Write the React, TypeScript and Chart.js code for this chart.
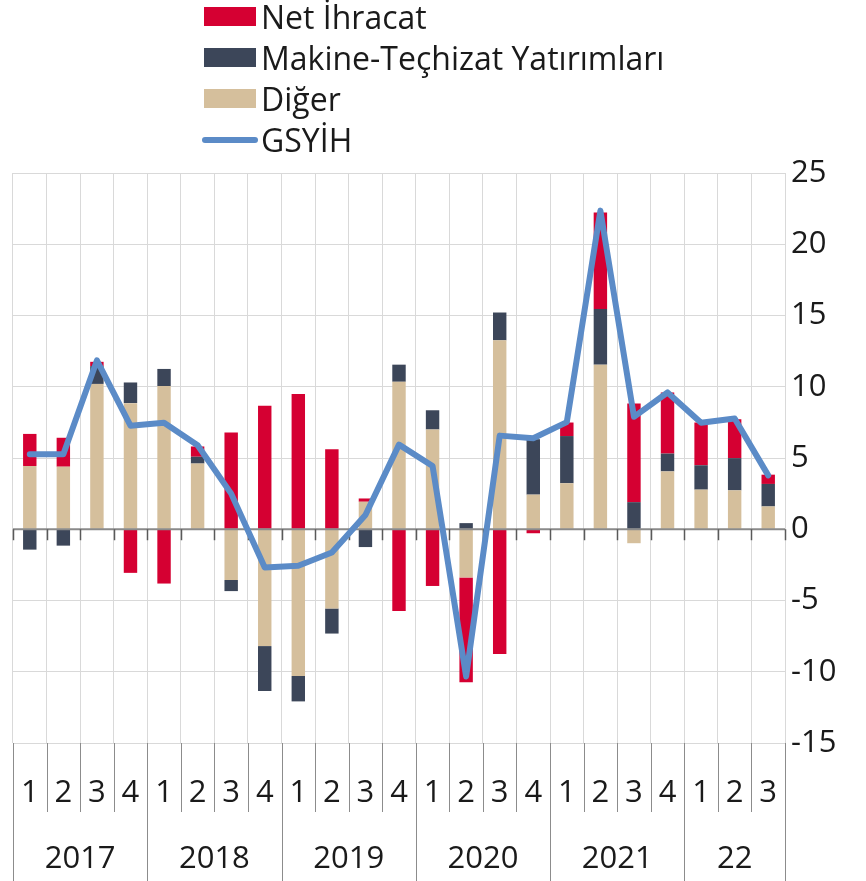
import React, { useEffect, useRef } from "react";
import { Chart, registerables } from "chart.js";

Chart.register(...registerables);

const quarters = ["1","2","3","4","1","2","3","4","1","2","3","4","1","2","3","4","1","2","3","4","1","2","3"];
const yearLabels = ["2017", "2018", "2019", "2020", "2021", "22"];
const yearSpans = [4, 4, 4, 4, 4, 3];

const diger = [4.44, 4.39, 10.2, 8.85, 10.05, 4.61, -3.56, -8.2, -10.3, -5.56, 1.93, 10.35, 7.0, -3.38, 13.26, 2.43, 3.23, 11.55, -0.98, 4.06, 2.78, 2.73, 1.6];
const makine = [-1.43, -1.15, 1.25, 1.45, 1.2, 0.48, -0.78, -3.15, -1.78, -1.76, -1.25, 1.2, 1.35, 0.43, 1.95, 3.89, 3.31, 3.91, 1.9, 1.25, 1.71, 2.26, 1.58];
const netIhracat = [2.25, 2.03, 0.3, -3.06, -3.81, 0.72, 6.79, 8.67, 9.5, 5.61, 0.23, -5.74, -3.98, -7.35, -8.75, -0.28, 0.95, 6.77, 6.92, 4.29, 3.0, 2.73, 0.65];
const gsyih = [5.26, 5.26, 11.85, 7.27, 7.47, 5.89, 2.5, -2.68, -2.56, -1.63, 1.0, 5.94, 4.44, -10.33, 6.57, 6.39, 7.52, 22.36, 7.89, 9.6, 7.47, 7.77, 3.78];

const C_NET = "#d50032";
const C_MAK = "#3c4659";
const C_DIG = "#d5bf9c";
const C_GDP = "#5b8bc7";
const FONT = "'Open Sans', 'Noto Sans', sans-serif";
const FS = 31;

const decor = {
  id: "decor",
  beforeDatasetDraw(chart: any, args: any) {
    if (args.meta.type !== "line") return;
    const { ctx, chartArea } = chart;
    const xs = chart.scales.x;
    const ys = chart.scales.y;
    const y0 = ys.getPixelForValue(0);
    const cw = xs.getPixelForValue(1) - xs.getPixelForValue(0);
    ctx.save();
    ctx.strokeStyle = "#8a8a8a";
    ctx.lineWidth = 2;
    ctx.beginPath();
    ctx.moveTo(chartArea.left, y0);
    ctx.lineTo(chartArea.right, y0);
    ctx.stroke();
    ctx.strokeStyle = "#595959";
    ctx.lineWidth = 1.5;
    for (let i = 0; i <= quarters.length; i++) {
      const x = Math.round(xs.getPixelForValue(0) - cw / 2 + i * cw) + 0.5;
      ctx.beginPath();
      ctx.moveTo(x, y0);
      ctx.lineTo(x, y0 + 11);
      ctx.stroke();
    }
    ctx.restore();
  },
  afterDraw(chart: any) {
    const { ctx, chartArea } = chart;
    const xs = chart.scales.x;
    const cw = xs.getPixelForValue(1) - xs.getPixelForValue(0);
    const start = xs.getPixelForValue(0) - cw / 2;
    const bottom = chartArea.bottom;
    const full = chart.height;
    const yearBounds = new Set<number>([0]);
    let acc = 0;
    yearSpans.forEach((s) => { acc += s; yearBounds.add(acc); });
    ctx.save();
    ctx.strokeStyle = "#8c8c8c";
    ctx.lineWidth = 1;
    for (let i = 0; i <= quarters.length; i++) {
      const x = Math.round(start + i * cw) + 0.5;
      ctx.beginPath();
      ctx.moveTo(x, bottom);
      ctx.lineTo(x, yearBounds.has(i) ? full : bottom + 69);
      ctx.stroke();
    }
    ctx.fillStyle = "#1a1a1a";
    ctx.font = `${FS}px ${FONT}`;
    ctx.textAlign = "center";
    ctx.textBaseline = "middle";
    let idx = 0;
    yearLabels.forEach((lab, k) => {
      const cx = start + (idx + yearSpans[k] / 2) * cw;
      ctx.fillText(lab, cx, bottom + 116);
      idx += yearSpans[k];
    });
    ctx.restore();
  },
};

function LegendRow({ color, label, line }: { color: string; label: string; line?: boolean }) {
  return (
    <div style={{ display: "flex", alignItems: "center", height: 41 }}>
      <div style={{ width: 56, display: "flex", justifyContent: "center" }}>
        {line ? (
          <div style={{ width: 56, height: 6, borderRadius: 3, background: color }} />
        ) : (
          <div style={{ width: 52, height: 19, background: color }} />
        )}
      </div>
      <span style={{ marginLeft: 3, fontSize: 32, fontFamily: FONT, color: "#1a1a1a", lineHeight: "41px" }}>{label}</span>
    </div>
  );
}

export default function App() {
  const ref = useRef<HTMLCanvasElement | null>(null);
  useEffect(() => {
    if (!ref.current) return;
    const chart = new Chart(ref.current, {
      type: "bar",
      data: {
        labels: quarters,
        datasets: [
          { type: "line", label: "GSYİH", data: gsyih, borderColor: C_GDP, backgroundColor: C_GDP, borderWidth: 6, pointRadius: 0, tension: 0, stack: "line", order: -1, borderCapStyle: "round", borderJoinStyle: "round" } as any,
          { label: "Diğer", data: diger, backgroundColor: C_DIG, stack: "bars", barPercentage: 0.4, categoryPercentage: 1 },
          { label: "Makine-Teçhizat Yatırımları", data: makine, backgroundColor: C_MAK, stack: "bars", barPercentage: 0.4, categoryPercentage: 1 },
          { label: "Net İhracat", data: netIhracat, backgroundColor: C_NET, stack: "bars", barPercentage: 0.4, categoryPercentage: 1 },
        ],
      },
      options: {
        responsive: false,
        animation: false,
        layout: { padding: { left: 13, top: 173, right: 0, bottom: 0 } },
        plugins: { legend: { display: false }, tooltip: { enabled: false } },
        scales: {
          x: {
            stacked: true,
            offset: true,
            grid: { offset: true, color: "#d9d9d9", drawTicks: false },
            border: { display: false },
            ticks: { font: { family: FONT, size: FS }, color: "#1a1a1a", padding: 32, maxRotation: 0, autoSkip: false },
            afterFit: (s: any) => { s.height = 138; s.paddingLeft = 0; s.paddingRight = 0; },
          },
          y: {
            position: "right",
            stacked: true,
            min: -15,
            max: 25,
            ticks: { stepSize: 5, font: { family: FONT, size: FS }, color: "#1a1a1a", padding: 6 },
            grid: { color: "#d9d9d9", drawTicks: false },
            border: { display: true, color: "#d9d9d9" },
            afterFit: (s: any) => { s.width = 81; },
          },
        },
      } as any,
      plugins: [decor],
    });
    return () => chart.destroy();
  }, []);
  return (
    <div style={{ position: "absolute", left: 0, top: 0, width: 866, height: 881 }}>
      <canvas ref={ref} width={866} height={881} style={{ position: "absolute", left: 0, top: 0 }} />
      <div style={{ position: "absolute", left: 202, top: -4 }}>
        <LegendRow color={C_NET} label="Net İhracat" />
        <LegendRow color={C_MAK} label="Makine-Teçhizat Yatırımları" />
        <LegendRow color={C_DIG} label="Diğer" />
        <LegendRow color={C_GDP} label="GSYİH" line />
      </div>
    </div>
  );
}
